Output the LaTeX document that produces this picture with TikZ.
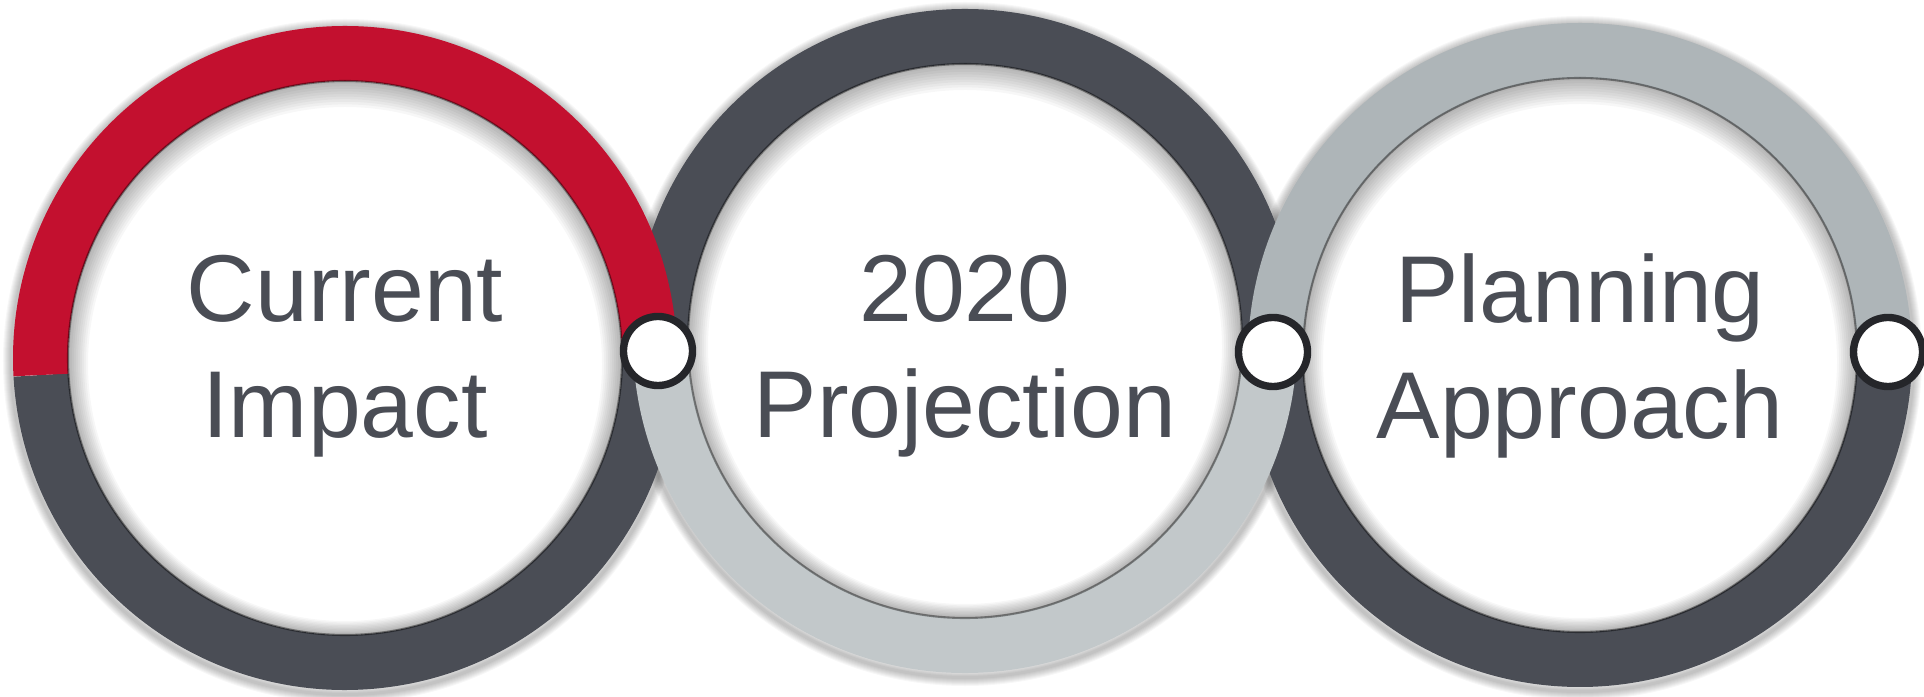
\documentclass[tikz,border=0pt]{standalone}
\usepackage{fontspec}
\setmainfont{Liberation Sans}
\usepackage{xcolor}
\usepackage{tikz}

\definecolor{ringred}{HTML}{C3102F}
\definecolor{ringdark}{HTML}{4A4D55}
\definecolor{ringlight}{HTML}{C2C8CA}
\definecolor{ringmid}{HTML}{AEB5B8}
\definecolor{jointline}{HTML}{25262A}

\begin{document}
\begin{tikzpicture}[x=0.01cm, y=0.01cm]
    % Styles
    \tikzstyle{ring} = [line width=0.55cm]
    \tikzstyle{caption} = [text=ringdark, align=center, font=\fontsize{27}{33}\selectfont]
    \tikzstyle{joint} = [circle, draw=jointline, line width=2.1pt, fill=white, minimum size=0.69cm, inner sep=0pt]

    \useasboundingbox (0,0) rectangle (1924,697);
    \fill[white] (0,0) rectangle (1924,697);

    % Ring centres
    \coordinate (c1) at (345,339);
    \coordinate (c2) at (965,356);
    \coordinate (c3) at (1580,342);

    % Soft shadow round each ring
    \foreach \c in {c1,c2,c3}
        \foreach \k in {1,...,8}
            \draw[black, opacity=0.03, line width=0.1cm] ([yshift=-0.03cm]\c) circle (329+\k);

    % Dark halves first, the red and light ones lie over them
    \draw[ring, ringdark] ([shift={(183.2:304.5)}]c1) arc[start angle=183.2, end angle=361.3, radius=304.5];
    \draw[ring, ringdark] ([shift={(-2:304.5)}]c2) arc[start angle=-2, end angle=182, radius=304.5];
    \draw[ring, ringdark] ([shift={(179.4:304.5)}]c3) arc[start angle=179.4, end angle=360.6, radius=304.5];
    \draw[ring, ringred] ([shift={(1.3:304.5)}]c1) arc[start angle=1.3, end angle=183.2, radius=304.5];
    \draw[ring, ringlight] ([shift={(182:304.5)}]c2) arc[start angle=182, end angle=358, radius=304.5];
    \draw[ring, ringmid] ([shift={(0.6:304.5)}]c3) arc[start angle=0.6, end angle=179.4, radius=304.5];

    % Shadow inside each ring
    \foreach \c in {c1,c2,c3} {
        \foreach \k in {1,...,10}
            \fill[black, opacity=0.03, even odd rule] (\c) circle (277) ([yshift=-\k*0.006cm]\c) circle (277-2*\k);
        \draw[black, opacity=0.4, line width=0.6pt] (\c) circle (277);
    }

    % Captions
    \node[caption] (impact) at (345,341) {Current\\Impact};
    \node[caption] (projection) at (965,341) {2020\\Projection};
    \node[caption] (approach) at (1580,341) {Planning\\Approach};

    % Joints between the rings
    \node[joint] (join1) at (658,346) {};
    \node[joint] (join2) at (1273,345) {};
    \node[joint] (join3) at (1888,345) {};
\end{tikzpicture}
\end{document}
